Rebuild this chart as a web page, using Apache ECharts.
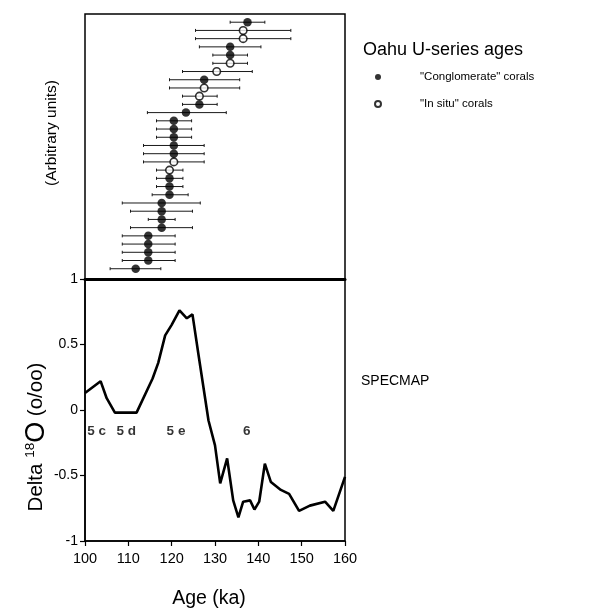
<!DOCTYPE html>
<html>
<head>
<meta charset="utf-8">
<script src="https://cdn.jsdelivr.net/npm/echarts@6/dist/echarts.min.js"></script>
<style>
  html, body { margin: 0; padding: 0; background: #fff; }
  #main { width: 589px; height: 610px; }
</style>
</head>
<body>
<div id="main"></div>
<script>
// U-series ages, top row first
let ages = [137.5, 136.5, 136.5, 133.5, 133.5, 133.5, 130.4, 127.5, 127.5, 126.4, 126.4, 123.3, 120.5, 120.5, 120.5, 120.5,
    120.5, 120.5, 119.5, 119.5, 119.5, 119.5, 117.7, 117.7, 117.7, 117.7, 114.6, 114.6, 114.6, 114.6, 111.7];
let ageLow = [133.5, 125.5, 125.5, 126.4, 129.5, 129.5, 122.5, 119.5, 119.5, 122.5, 122.5, 114.4, 116.5, 116.5, 116.5, 113.5,
    113.5, 113.5, 116.5, 116.5, 116.5, 115.5, 108.6, 110.5, 114.6, 110.5, 108.6, 108.6, 108.6, 108.6, 105.8];
let ageHigh = [141.5, 147.5, 147.5, 140.6, 137.5, 137.5, 138.6, 135.7, 135.7, 130.5, 130.5, 132.6, 124.6, 124.6, 124.6, 127.5,
    127.5, 127.5, 122.6, 122.6, 122.6, 123.8, 126.6, 124.8, 120.8, 124.8, 120.8, 120.8, 120.8, 120.8, 117.5];
// C = "Conglomerate" corals, I = "In situ" corals
let coralType = ['C', 'I', 'I', 'C', 'C', 'I', 'I', 'C', 'I', 'I', 'C', 'C', 'C', 'C', 'C', 'C',
    'C', 'I', 'I', 'C', 'C', 'C', 'C', 'C', 'C', 'C', 'C', 'C', 'C', 'C', 'C'];

// SPECMAP curve
let specAge = [100, 103.6, 105, 106.9, 111.9, 115.6, 116.9, 118.5, 120, 121.8, 123.5, 124.8, 126.2, 128.5, 130, 131.2,
    132.8, 134.2, 135.4, 136.5, 138.1, 139.1, 140.2, 141.5, 142.9, 145.2, 147.1, 149.4, 151.9, 155.4, 157.3, 160];
let specVal = [0.13, 0.22, 0.09, -0.02, -0.02, 0.24, 0.36, 0.57, 0.65, 0.76, 0.70, 0.73, 0.42, -0.08, -0.27, -0.56,
    -0.37, -0.69, -0.82, -0.70, -0.69, -0.76, -0.70, -0.41, -0.55, -0.61, -0.64, -0.77, -0.73, -0.70, -0.77, -0.51];

let stageNames = ['5 c', '5 d', '5 e', '6'];
let stageAge = [102.7, 109.5, 121, 137.3];
let stageVal = [-0.16, -0.16, -0.16, -0.16];

let n = ages.length;
let errData = [], conglo = [], insitu = [];
for (let i = 0; i < n; i++) {
    let rank = n - i;
    errData.push([ages[i], rank, ageLow[i], ageHigh[i]]);
    if (coralType[i] === 'C') conglo.push([ages[i], rank]);
    else insitu.push([ages[i], rank]);
}
let specData = specAge.map((a, i) => [a, specVal[i]]);
let stageData = stageAge.map((a, i) => [a, stageVal[i], stageNames[i]]);

let font = 'Liberation Sans';

let option = {
    backgroundColor: '#fff',
    animation: false,
    textStyle: { fontFamily: font, color: '#000' },
    grid: [
        { left: 85, top: 14, width: 260, height: 265, show: true, borderColor: '#000', borderWidth: 1.5, outerBoundsMode: 'none' },
        { left: 85, top: 279, width: 260, height: 262, show: true, borderColor: '#000', borderWidth: 1.5, outerBoundsMode: 'none' }
    ],
    legend: {
        left: 369,
        top: 66,
        orient: 'vertical',
        itemWidth: 74,
        itemHeight: 6,
        itemGap: 15,
        data: ['"Conglomerate" corals', '"In situ" corals'],
        textStyle: { fontFamily: font, fontSize: 11.5, color: '#000' }
    },
    xAxis: [
        {
            gridIndex: 0, type: 'value', min: 100, max: 160,
            axisLine: { show: true, onZero: false, lineStyle: { color: '#000', width: 3 } },
            axisTick: { show: false }, axisLabel: { show: false }, splitLine: { show: false }
        },
        {
            gridIndex: 1, type: 'value', min: 100, max: 160, interval: 10,
            name: 'Age (ka)', nameLocation: 'middle', nameGap: 48,
            nameTextStyle: { fontFamily: font, fontSize: 19.5, color: '#000', padding: [0, 12, 0, 0] },
            axisLine: { show: true, onZero: false, lineStyle: { color: '#000', width: 1.5 } },
            axisTick: { show: true, length: 5, lineStyle: { color: '#000', width: 1.2 } },
            axisLabel: { fontFamily: font, fontSize: 14.5, color: '#000', margin: 10 },
            splitLine: { show: false }
        }
    ],
    yAxis: [
        {
            gridIndex: 0, type: 'value', min: -0.25, max: 32,
            name: '(Arbitrary units)', nameLocation: 'middle', nameGap: 25,
            nameTextStyle: { fontFamily: font, fontSize: 15.5, color: '#000', padding: [0, 0, 0, 27] },
            axisLine: { show: false }, axisTick: { show: false }, axisLabel: { show: false }, splitLine: { show: false }
        },
        {
            gridIndex: 1, type: 'value', min: -1, max: 1, interval: 0.5,
            name: '{a|Delta }{s|18}{o|O}{a| (o/oo)}', nameLocation: 'middle', nameGap: 35,
            nameTextStyle: {
                padding: [0, 54, 0, 0],
                rich: {
                    a: { fontFamily: font, fontSize: 20.5, color: '#000' },
                    s: { fontFamily: font, fontSize: 13.5, color: '#000', verticalAlign: 'top' },
                    o: { fontFamily: font, fontSize: 27, color: '#000' }
                }
            },
            axisLine: { show: true, lineStyle: { color: '#000', width: 1.5 } },
            axisTick: { show: true, length: 5, lineStyle: { color: '#000', width: 1.2 } },
            axisLabel: { fontFamily: font, fontSize: 14, color: '#000', margin: 7 },
            splitLine: { show: false }
        }
    ],
    graphic: [
        { type: 'text', left: 363, top: 41, style: { text: 'Oahu U-series ages', font: '18px "Liberation Sans"', fill: '#000' } },
        { type: 'text', left: 361, top: 374, style: { text: 'SPECMAP', font: '14px "Liberation Sans"', fill: '#000' } }
    ],
    series: [
        {
            type: 'custom',
            xAxisIndex: 0, yAxisIndex: 0,
            data: errData,
            encode: { x: [0, 2, 3], y: 1 },
            z: 1,
            renderItem: function (params, api) {
                let y = api.value(1);
                let lo = api.coord([api.value(2), y]);
                let hi = api.coord([api.value(3), y]);
                let st = { stroke: '#1a1a1a', lineWidth: 1 };
                return {
                    type: 'group',
                    children: [
                        { type: 'line', shape: { x1: lo[0], y1: lo[1], x2: hi[0], y2: hi[1] }, style: st },
                        { type: 'line', shape: { x1: lo[0], y1: lo[1] - 1.5, x2: lo[0], y2: lo[1] + 1.5 }, style: st },
                        { type: 'line', shape: { x1: hi[0], y1: hi[1] - 1.5, x2: hi[0], y2: hi[1] + 1.5 }, style: st }
                    ]
                };
            }
        },
        {
            name: '"Conglomerate" corals',
            type: 'scatter',
            xAxisIndex: 0, yAxisIndex: 0,
            symbol: 'circle', symbolSize: 8.5,
            itemStyle: { color: '#000' },
            z: 3,
            data: conglo
        },
        {
            name: '"In situ" corals',
            type: 'scatter',
            xAxisIndex: 0, yAxisIndex: 0,
            symbol: 'circle', symbolSize: 7.5,
            itemStyle: { color: '#fff', borderColor: '#000', borderWidth: 1.6 },
            z: 3,
            data: insitu
        },
        {
            type: 'line',
            xAxisIndex: 1, yAxisIndex: 1,
            data: specData,
            symbol: 'none',
            lineStyle: { color: '#000', width: 2.6 },
            z: 2
        },
        {
            type: 'scatter',
            xAxisIndex: 1, yAxisIndex: 1,
            data: stageData,
            symbolSize: 0,
            silent: true,
            label: {
                show: true, position: 'inside',
                formatter: p => p.data[2],
                fontFamily: font, fontSize: 13.5, fontWeight: 'bold', color: '#000'
            }
        }
    ]
};

let chart = echarts.init(document.getElementById('main'));
chart.setOption(option);
</script>
</body>
</html>
